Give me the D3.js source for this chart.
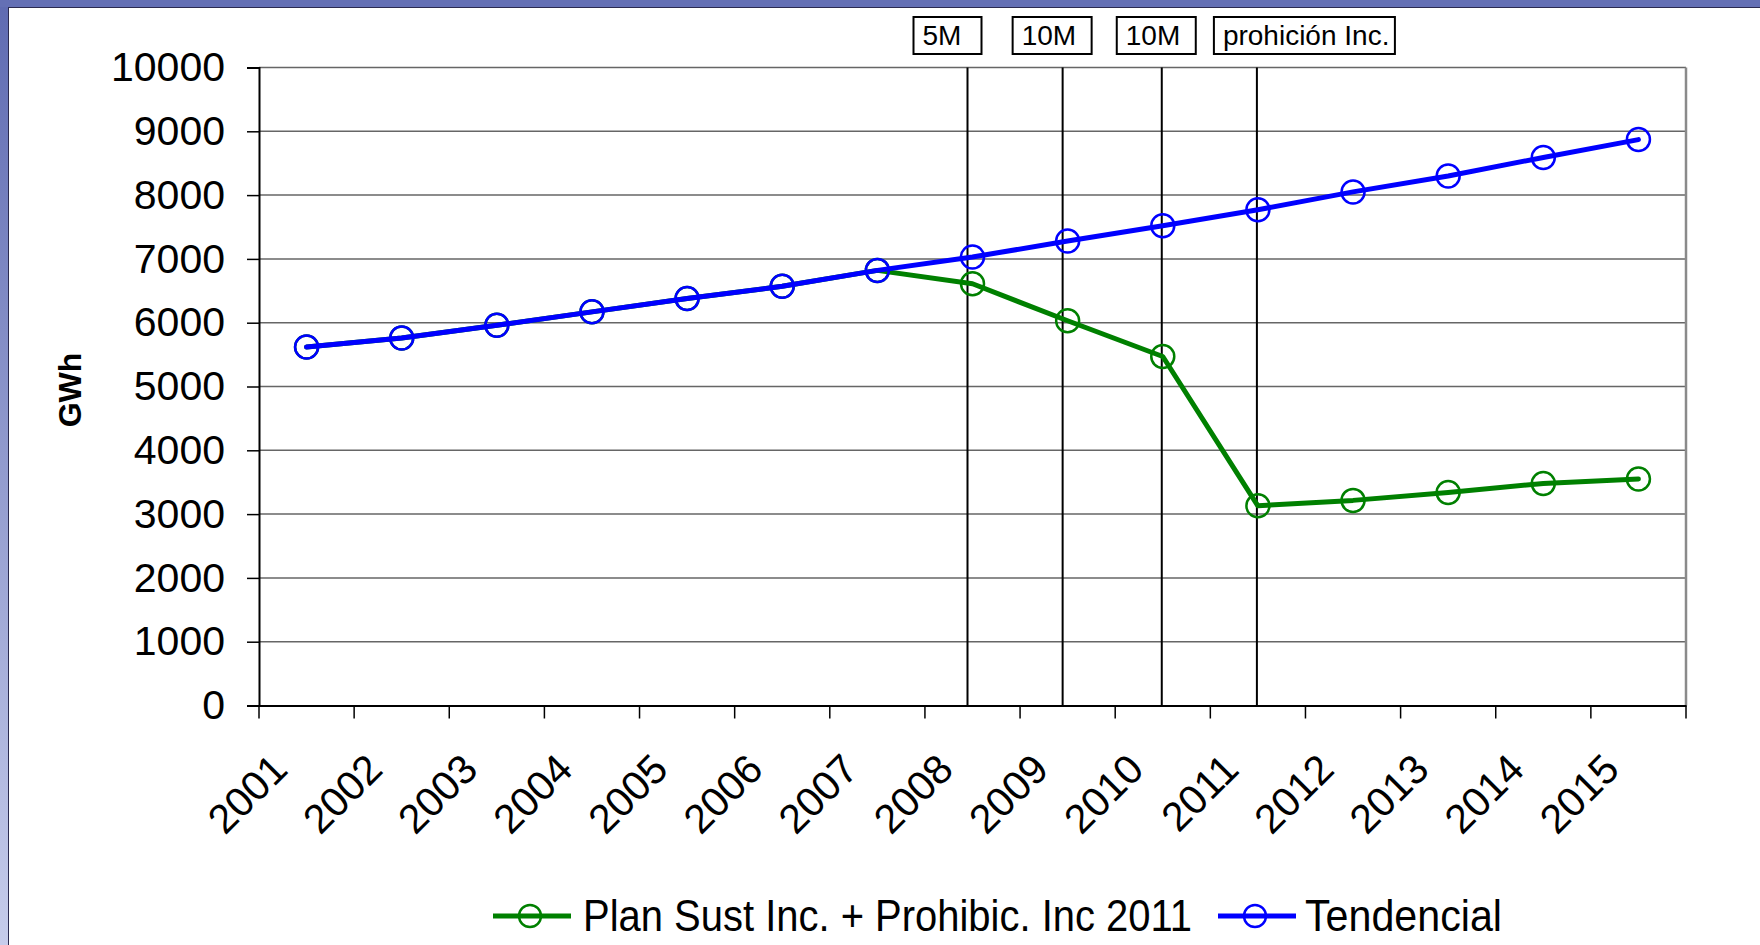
<!DOCTYPE html>
<html>
<head>
<meta charset="utf-8">
<script src="https://cdn.jsdelivr.net/npm/d3@7"></script>
<style>
  body { margin: 0; background: #fff; }
  svg { display: block; font-family: "Liberation Sans", Arial, sans-serif; }
</style>
</head>
<body>
<svg id="chart" width="1760" height="945"></svg>
<script>
// ---------------- data ----------------
const years = ["2001","2002","2003","2004","2005","2006","2007","2008","2009","2010","2011","2012","2013","2014","2015"];
const planSust = [5620,5760,5960,6170,6380,6570,6820,6610,6030,5470,3130,3215,3340,3480,3550];
const tendencial = [5620,5760,5960,6170,6380,6570,6820,7030,7280,7520,7770,8050,8300,8590,8870];
const yTicks = [0,1000,2000,3000,4000,5000,6000,7000,8000,9000,10000];
const seriesNames = ["Plan Sust Inc. + Prohibic. Inc 2011", "Tendencial"];
const annotationYears = ["2008","2009","2010","2011"];
const annotationLabels = ["5M","10M","10M","prohición Inc."];
const yTitle = "GWh";

// ---------------- layout ----------------
const W = 1760, H = 945;
const plot = { left: 259, right: 1686, top: 67.5, bottom: 705.5 };
const lineOffsets = [-5, -5, -1, -1];      // hand-drawn marker lines vs category centre
const boxOffsets = [-54, -50, -45, -43];   // box left edge relative to marker line
const boxWidths = [68, 79, 79, 181];
const colors = { plan: "#008000", tend: "#0000ff" };

const svg = d3.select("#chart");

// page frame (slide border)
const defs = svg.append("defs");
const grad = defs.append("linearGradient").attr("id","leftGrad")
  .attr("x1",0).attr("y1",0).attr("x2",0).attr("y2",1);
grad.append("stop").attr("offset","0%").attr("stop-color","#5f6bb2");
grad.append("stop").attr("offset","100%").attr("stop-color","#c6cceb");
svg.append("rect").attr("x",0).attr("y",0).attr("width",W).attr("height",H).attr("fill","#fff");
svg.append("rect").attr("x",0).attr("y",0).attr("width",8).attr("height",H).attr("fill","url(#leftGrad)");
svg.append("rect").attr("x",0).attr("y",0).attr("width",W).attr("height",7).attr("fill","#6470b5");
svg.append("line").attr("x1",8).attr("x2",W).attr("y1",7.5).attr("y2",7.5).attr("stroke","#2a2a50").attr("stroke-width",1);
svg.append("line").attr("x1",8.5).attr("x2",8.5).attr("y1",7).attr("y2",H).attr("stroke","#2a2a50").attr("stroke-width",1);

// scales
const x = d3.scaleBand().domain(years).range([plot.left, plot.right]).paddingInner(0).paddingOuter(0);
const bw = x.bandwidth();
const cx = d => x(d) + bw / 2;
const y = d3.scaleLinear().domain([0, 10000]).range([plot.bottom, plot.top]);

// gridlines
svg.append("g").selectAll("line").data(yTicks.filter(t => t > 0)).join("line")
  .attr("x1", plot.left).attr("x2", plot.right)
  .attr("y1", d => y(d)).attr("y2", d => y(d))
  .attr("stroke", "#666").attr("stroke-width", 1.5);

// right border of plot area
svg.append("line").attr("x1", plot.right).attr("x2", plot.right)
  .attr("y1", y(10000)).attr("y2", y(0))
  .attr("stroke", "#8a8a8a").attr("stroke-width", 2.5);

// y axis
const yAxis = svg.append("g").attr("transform", `translate(${plot.left},0)`)
  .call(d3.axisLeft(y).tickValues(yTicks).tickSize(12).tickPadding(22).tickFormat(d3.format("d")));
yAxis.select(".domain").attr("stroke", "#000").attr("stroke-width", 2);
yAxis.selectAll(".tick line").attr("stroke", "#000").attr("stroke-width", 1.5);
yAxis.selectAll(".tick text").attr("font-size", 41).attr("fill", "#000")
  .attr("font-family", "Liberation Sans, Arial, sans-serif");

// x axis (category boundaries as ticks)
const xAxis = svg.append("g").attr("transform", `translate(0,${plot.bottom})`)
  .call(d3.axisBottom(x).tickSize(0).tickFormat(() => ""));
xAxis.select(".domain").attr("stroke", "#000").attr("stroke-width", 2);
const bounds = years.map(d => x(d)).concat([x.range()[1]]);
svg.append("g").selectAll("line").data(bounds).join("line")
  .attr("x1", d => d).attr("x2", d => d)
  .attr("y1", plot.bottom).attr("y2", plot.bottom + 13)
  .attr("stroke", "#000").attr("stroke-width", 1.5);
svg.append("g").selectAll("text").data(years).join("text")
  .attr("transform", d => `translate(${cx(d) - 17},${plot.bottom + 66}) rotate(-45)`)
  .attr("text-anchor", "end")
  .attr("font-size", 41).attr("fill", "#000")
  .text(d => d);

// y title
svg.append("text")
  .attr("transform", `translate(70,390) rotate(-90)`)
  .attr("text-anchor", "middle").attr("dominant-baseline", "central")
  .attr("font-size", 32).attr("font-weight", "bold").attr("fill", "#000")
  .text(yTitle);

// annotation lines
const lineX = (d, i) => cx(d) + lineOffsets[i];
svg.append("g").selectAll("line").data(annotationYears).join("line")
  .attr("x1", lineX).attr("x2", lineX)
  .attr("y1", y(10000)).attr("y2", y(0))
  .attr("stroke", "#000").attr("stroke-width", 2);

// series
const line = d3.line().x((d, i) => cx(years[i])).y(d => y(d));
function drawSeries(vals, color) {
  const g = svg.append("g");
  g.append("path").datum(vals).attr("d", line)
    .attr("fill", "none").attr("stroke", color).attr("stroke-width", 5)
    .attr("stroke-linejoin", "round").attr("stroke-linecap", "round");
  g.selectAll("circle").data(vals).join("circle")
    .attr("cx", (d, i) => cx(years[i])).attr("cy", d => y(d))
    .attr("r", 11.5).attr("fill", "none").attr("stroke", color).attr("stroke-width", 2.5);
}
drawSeries(planSust, colors.plan);
drawSeries(tendencial, colors.tend);

// annotation boxes
const ann = svg.append("g").selectAll("g").data(annotationLabels).join("g");
ann.each(function(label, i) {
  const g = d3.select(this);
  const left = lineX(annotationYears[i], i) + boxOffsets[i];
  g.append("rect").attr("x", left).attr("y", 17).attr("width", boxWidths[i]).attr("height", 37)
    .attr("fill", "#fff").attr("stroke", "#000").attr("stroke-width", 2);
  g.append("text").attr("x", left + 9).attr("y", 45)
    .attr("font-size", 28).attr("fill", "#000").text(label);
});

// legend
const legendY = 916;
const legendItems = [
  { name: seriesNames[0], color: colors.plan, x0: 493, textX: 583, textLen: 609 },
  { name: seriesNames[1], color: colors.tend, x0: 1218, textX: 1305, textLen: 197 }
];
const lg = svg.append("g").selectAll("g").data(legendItems).join("g");
lg.append("line").attr("x1", d => d.x0).attr("x2", d => d.x0 + 78)
  .attr("y1", legendY).attr("y2", legendY)
  .attr("stroke", d => d.color).attr("stroke-width", 5);
lg.append("circle").attr("cx", d => d.x0 + 37).attr("cy", legendY).attr("r", 11)
  .attr("fill", "none").attr("stroke", d => d.color).attr("stroke-width", 2.5);
lg.append("text").attr("x", d => d.textX).attr("y", legendY + 15)
  .attr("font-size", 44).attr("fill", "#000")
  .attr("textLength", d => d.textLen).attr("lengthAdjust", "spacingAndGlyphs")
  .text(d => d.name);
</script>
</body>
</html>
